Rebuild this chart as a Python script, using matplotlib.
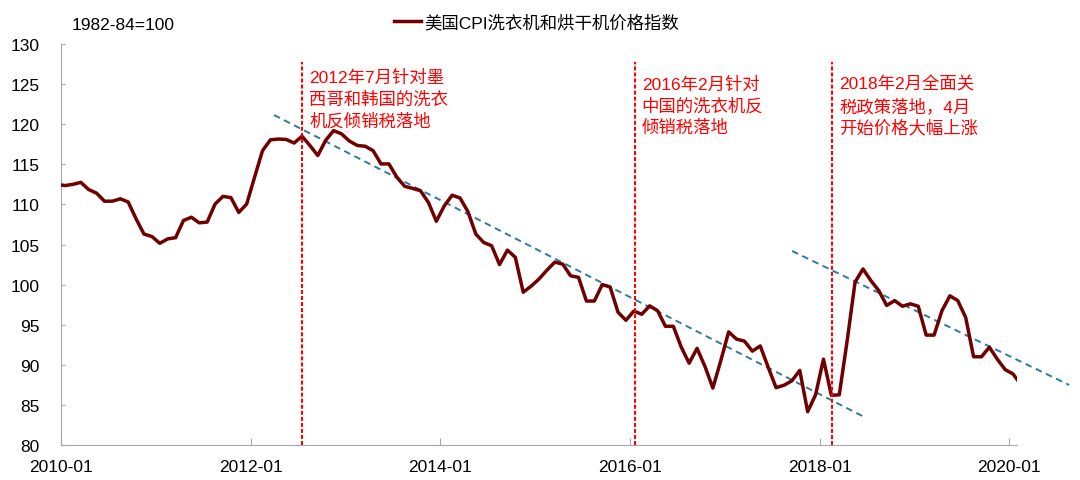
import matplotlib
matplotlib.use('Agg')
import matplotlib.pyplot as plt
import pandas as pd

# monthly index, 2009-12 .. 2020-02 (the axis shows 2010-01 .. 2020-01)
months = pd.period_range('2009-12', '2020-02', freq='M')
cpi_washer = [
    112.5, 112.35, 112.5, 112.75, 111.85, 111.4, 110.4, 110.4, 110.7, 110.3,
    108.2, 106.3, 106.0, 105.15, 105.7, 105.85, 108.0, 108.4, 107.7, 107.8,
    110.05, 111.0, 110.85, 109.0, 110.05, 113.4, 116.7, 118.05, 118.15, 118.1,
    117.65, 118.5, 117.35, 116.1, 118.0, 119.2, 118.8, 117.9, 117.35, 117.25,
    116.7, 115.05, 115.05, 113.4, 112.25, 112.0, 111.7, 110.25, 107.9, 109.8,
    111.15, 110.8, 109.1, 106.3, 105.25, 104.85, 102.5, 104.3, 103.4, 99.05,
    99.8, 100.7, 101.8, 102.8, 102.55, 101.1, 100.9, 97.95, 97.95, 100.0,
    99.7, 96.55, 95.55, 96.7, 96.3, 97.35, 96.75, 94.8, 94.8, 92.2,
    90.2, 92.05, 89.8, 87.1, 90.5, 94.1, 93.2, 92.95, 91.7, 92.35,
    89.7, 87.15, 87.45, 88.0, 89.3, 84.15, 86.25, 90.7, 86.2, 86.25,
    93.0, 100.3, 101.95, 100.5, 99.25, 97.4, 98.0, 97.3, 97.6, 97.3,
    93.7, 93.7, 96.75, 98.6, 98.0, 95.9, 91.0, 91.0, 92.2, 90.7,
    89.4, 88.85, 87.5,
]

tick_pos = [0, 24, 48, 72, 96, 120]
tick_labels = ['2010-01', '2012-01', '2014-01', '2016-01', '2018-01', '2020-01']

# event markers (months since 2010-01) and their notes
event_x = [30.55, 72.7, 97.6]
event_text = [
    ['2012年7月针对墨', '西哥和韩国的洗衣', '机反倾销税落地'],
    ['2016年2月针对', '中国的洗衣机反', '倾销税落地'],
    ['2018年2月全面关', '税政策落地，4月', '开始价格大幅上涨'],
]
event_text_x = [31.4, 73.5, 98.5]
event_text_y = [125.95, 125.05, 125.05]

# dashed trend lines
trend1_x = [26.96, 101.9]
trend1_y = [121.15, 83.37]
trend2_x = [92.53, 127.6]
trend2_y = [104.19, 87.48]

fonts = ['Liberation Sans', 'Noto Sans CJK SC', 'DejaVu Sans']
plt.rcParams['font.family'] = fonts

x = [(m - months[1]).n + 0.5 for m in months]

fig = plt.figure(figsize=(10.8, 4.81), dpi=100)
ax = fig.add_axes([0.0565, 0.0728, 0.8852, 0.8336])

ax.plot(x, cpi_washer, color='#700000', lw=2.5, solid_joinstyle='round',
        label='美国CPI洗衣机和烘干机价格指数', zorder=3)

for tx, ty in [(trend1_x, trend1_y), (trend2_x, trend2_y)]:
    ax.plot(tx, ty, color='#2f7a9a', lw=1.4, dashes=(3.4, 2.4), clip_on=False, zorder=2)

for ex, lines, lx, ly in zip(event_x, event_text, event_text_x, event_text_y):
    ax.axvline(ex, ymin=0, ymax=0.955, color='#ff0000', lw=1.5, dashes=(1.9, 1.0), zorder=4)
    for i, line in enumerate(lines):
        ax.text(lx, ly - i * 2.72, line, color='#ff0000', fontsize=12.5,
                va='center', ha='left', family=fonts)

ax.set_xlim(0, 121)
ax.set_ylim(80, 130)
ax.set_yticks(range(80, 131, 5))
ax.set_xticks(tick_pos)
ax.set_xticklabels(tick_labels)

for s in ['top', 'right']:
    ax.spines[s].set_visible(False)
for s in ['left', 'bottom']:
    ax.spines[s].set_color('#a6a6a6')
    ax.spines[s].set_linewidth(0.8)

ax.tick_params(axis='y', direction='in', length=3, color='#a6a6a6', pad=15.5, labelsize=12.5)
ax.tick_params(axis='x', direction='in', length=5, color='#a6a6a6', pad=10, labelsize=12.5)

fig.text(72 / 1080, 1 - 26 / 481, '1982-84=100', fontsize=12.5, va='center', ha='left')

fig.legend(loc='center', bbox_to_anchor=(0.497, 0.952), frameon=False,
           fontsize=12.5, handlelength=1.55, handletextpad=0.2, borderpad=0.2)

fig.savefig('out.png', dpi=100)
plt.close(fig)
